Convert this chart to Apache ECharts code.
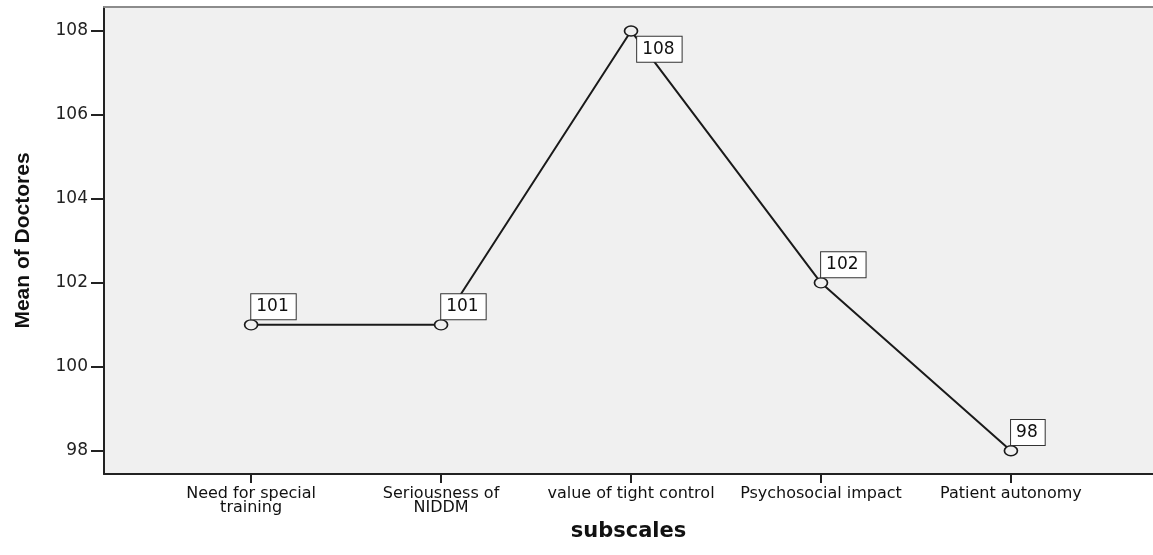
<!DOCTYPE html>
<html>
<head>
<meta charset="utf-8">
<script src="https://cdn.jsdelivr.net/npm/echarts@6/dist/echarts.min.js"></script>
<style>
  html, body { margin: 0; padding: 0; background: #ffffff; }
  #main { width: 1153px; height: 555px; }
</style>
</head>
<body>
<div id="main"></div>
<script>
  // subscale names (x axis) and the mean score for each one
  var categories = ['Need for special\ntraining', 'Seriousness of\nNIDDM', 'value of tight control', 'Psychosocial impact', 'Patient autonomy'];
  var meanValues = [101, 101, 108, 102, 98];
  var yTicks = [98, 100, 102, 104, 106, 108];

  var xTicks = categories.map(function (c, i) { return i; });
  var maxValue = Math.max.apply(null, meanValues);

  var myChart = echarts.init(document.getElementById('main'));

  var labelBase = {
    show: true,
    fontFamily: 'DejaVu Sans',
    fontSize: 17,
    lineHeight: 17,
    color: '#111',
    backgroundColor: '#ffffff',
    borderColor: '#333',
    borderWidth: 1,
    padding: [4, 7, 4, 5],
    formatter: function (p) { return p.value[1]; }
  };

  var seriesData = meanValues.map(function (v, i) {
    // the peak gets its box below-right, the others above-right
    var pos = v === maxValue ? [13.5, 11.5] : [7.5, -25];
    return {
      value: [i, v],
      label: Object.assign({}, labelBase, { position: pos })
    };
  });

  var xMin = -0.7745, xMax = 4.748;

  var option = {
    backgroundColor: '#ffffff',
    animation: false,
    grid: {
      left: 104,
      top: 7,
      right: 0,
      bottom: 81,
      show: true,
      backgroundColor: '#f0f0f0',
      borderWidth: 0
    },
    xAxis: [
      {
        type: 'value',
        min: xMin,
        max: xMax,
        name: 'subscales',
        nameLocation: 'middle',
        nameGap: 27,
        nameTextStyle: {
          fontFamily: 'DejaVu Sans',
          fontWeight: 'bold',
          fontSize: 21,
          color: '#111'
        },
        splitLine: { show: false },
        axisLine: { show: true, onZero: false, lineStyle: { color: '#222', width: 2 } },
        axisTick: {
          show: true,
          length: 9,
          customValues: xTicks,
          lineStyle: { color: '#222', width: 2 }
        },
        axisLabel: {
          customValues: xTicks,
          margin: 13,
          fontFamily: 'DejaVu Sans',
          fontSize: 16,
          lineHeight: 14,
          color: '#111',
          formatter: function (v) { return categories[Math.round(v)]; }
        }
      },
      {
        // top frame line only
        type: 'value',
        position: 'top',
        min: xMin,
        max: xMax,
        splitLine: { show: false },
        axisLine: { show: true, onZero: false, lineStyle: { color: '#8c8c8c', width: 2 } },
        axisTick: { show: false },
        axisLabel: { show: false }
      }
    ],
    yAxis: {
      type: 'value',
      min: 97.446,
      max: 108.571,
      name: 'Mean of Doctores',
      nameLocation: 'middle',
      nameRotate: 90,
      nameGap: 70,
      nameTextStyle: {
        fontFamily: "'Liberation Sans', Arial, sans-serif",
        fontWeight: 'bold',
        fontSize: 21,
        color: '#111'
      },
      splitLine: { show: false },
      axisLine: { show: true, onZero: false, lineStyle: { color: '#222', width: 2 } },
      axisTick: {
        show: true,
        length: 13,
        customValues: yTicks,
        lineStyle: { color: '#222', width: 2 }
      },
      axisLabel: {
        customValues: yTicks,
        margin: 16,
        fontFamily: 'DejaVu Sans',
        fontSize: 17,
        color: '#222'
      }
    },
    series: [
      {
        type: 'line',
        data: seriesData,
        symbol: 'path://M0,5A5,5,0,1,1,10,5A5,5,0,1,1,0,5Z',
        symbolSize: [13, 10],
        lineStyle: { color: '#1a1a1a', width: 2 },
        itemStyle: { color: '#f0f0f0', borderColor: '#1a1a1a', borderWidth: 1.5 },
        z: 5
      }
    ]
  };

  myChart.setOption(option);
</script>
</body>
</html>
